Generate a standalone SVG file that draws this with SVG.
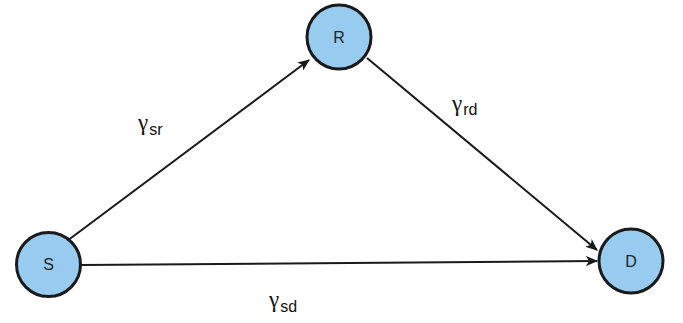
<svg xmlns="http://www.w3.org/2000/svg" width="683" height="323" viewBox="0 0 683 323">
<style>
.node{fill:#98CBF0;stroke:#1a1a1a;stroke-width:3}
.lbl{font-family:"Liberation Sans",Arial,sans-serif;font-size:16px;fill:#222;text-anchor:middle}
.edge{stroke:#1a1a1a;stroke-width:2;fill:none;marker-end:url(#arr)}
.g{font-family:"Liberation Serif","Times New Roman",serif;font-size:23px;fill:#111}
.sub{font-family:"Liberation Sans",Arial,sans-serif;font-size:16px;fill:#111}
</style>
<defs>
<marker id="arr" markerWidth="12" markerHeight="10" refX="11" refY="5" orient="auto" markerUnits="userSpaceOnUse">
<path d="M0,0 L12,5 L0,10 L3,5 Z" fill="#1a1a1a"/>
</marker>
</defs>
<g id="connectors">
<line class="edge" x1="67" y1="241" x2="309" y2="60"/>
<line class="edge" x1="367" y1="58" x2="597" y2="250"/>
<line class="edge" x1="82" y1="265" x2="597" y2="261"/>
</g>
<g id="node-R"><circle class="node" cx="339" cy="37" r="32"/><text class="lbl" x="339" y="43">R</text></g>
<g id="node-S"><circle class="node" cx="48.5" cy="264.5" r="32"/><text class="lbl" x="48.5" y="270">S</text></g>
<g id="node-D"><circle class="node" cx="631" cy="261" r="32"/><text class="lbl" x="631" y="267">D</text></g>
<g id="labels">
<text x="138" y="130"><tspan class="g">γ</tspan><tspan class="sub" dx="1" dy="5">sr</tspan></text>
<text x="452" y="111"><tspan class="g">γ</tspan><tspan class="sub" dx="1" dy="4">rd</tspan></text>
<text x="269" y="307"><tspan class="g">γ</tspan><tspan class="sub" dx="1" dy="5">sd</tspan></text>
</g>
</svg>
